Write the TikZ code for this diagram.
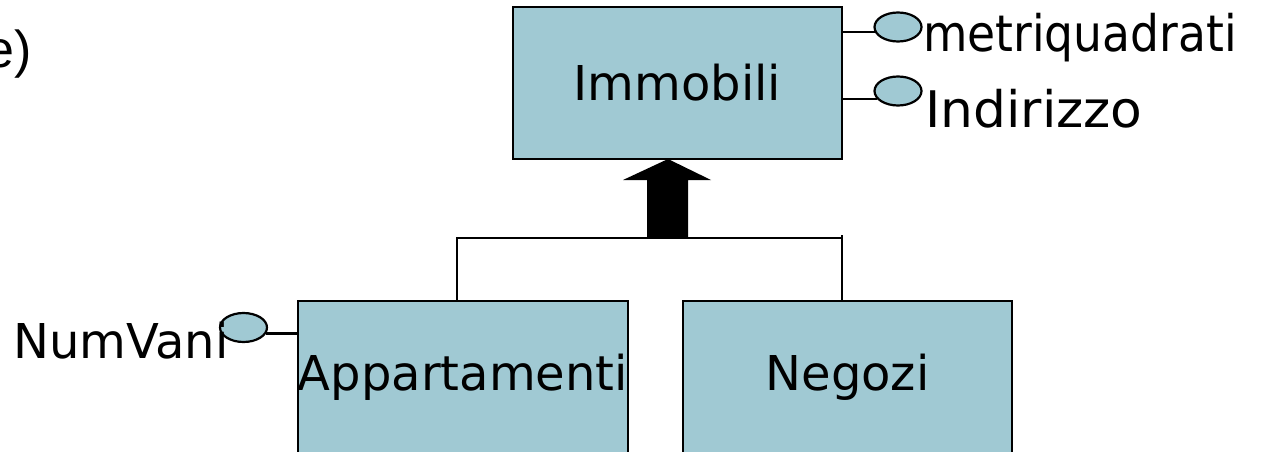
\documentclass[tikz,border=0pt]{standalone}
\usepackage{fontspec}
\setmainfont{DejaVu Sans}
\newfontfamily\arialfont{Liberation Sans}
\usetikzlibrary{shapes.geometric}
\definecolor{entblue}{RGB}{160,201,211}
\tikzset{
  entity/.style={draw=black, fill=entblue, line width=2.2pt, rectangle,
    minimum width=329pt, minimum height=152pt, inner sep=0pt,
    font=\fontsize{48}{56}\selectfont},
  attrib/.style={draw=black, fill=entblue, line width=2.2pt, ellipse,
    minimum width=47pt, minimum height=29pt, inner sep=0pt},
  attrlabel/.style={inner sep=0pt, anchor=base west, font=\fontsize{48}{56}\selectfont},
  link/.style={draw=black, line width=2.2pt},
}
\begin{document}
\begin{tikzpicture}[x=1pt, y=-1pt]
\useasboundingbox (0,0) rectangle (1268,452);

% fragment of the preceding caption
\node[inner sep=0pt, anchor=base east, font=\arialfont\fontsize{52}{60}\selectfont] (cap) at (32,67) {e)};

% entities
\node[entity] (immobili) at (677.5,83) {Immobili};
\node[entity] (appart) at (463,377) {Appartamenti};
\node[entity] (negozi) at (847.5,377) {Negozi};

% attributes of Immobili
\node[attrib] (a1) at (898,27) {};
\node[attrib] (a2) at (898,91) {};
\draw[link] (immobili.east |- a1.192) -- (a1.192);
\draw[link] (immobili.east |- a2.200) -- (a2.200);
\node[attrlabel] (l1) at (923,52) {\scalebox{0.95}[1.05]{metriquadrati}};
\node[attrlabel] (l2) at (925,127) {\scalebox{1.08}[1.05]{Indirizzo}};

% attribute of Appartamenti
\node[attrib] (a3) at (243.5,327.5) {};
\draw[link] (a3.-15) -- (a3.-15 -| appart.west);
\node[attrlabel] (l3) at (13,358) {NumVani};

% generalization
\coordinate (hl) at (457,238);
\coordinate (hr) at (842,238);
\draw[link] (appart.north -| hl) -- (hl) -- (hr) -- (negozi.north -| hr);
\draw[link] (hr) -- ++(0,-3);
\coordinate (tip) at (668,159);
\fill[black] (647,238) -- (647,180) -- (623,180) -- (tip) -- (711,180) -- (688,180) -- (688,238) -- cycle;
\end{tikzpicture}
\end{document}
